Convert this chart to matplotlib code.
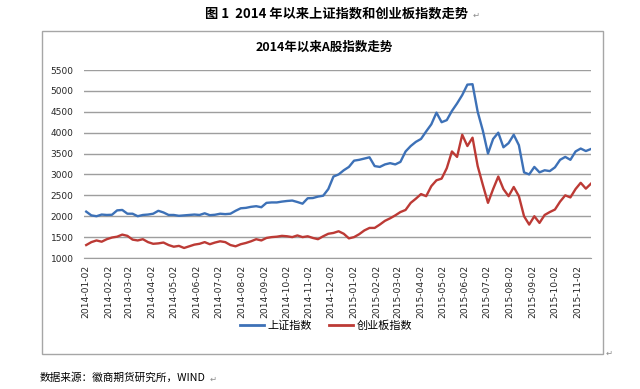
# -*- coding: UTF-8 -*-
# 2014年以来上证指数和创业板指数走势（周度读数）
import pandas as pd
import matplotlib
matplotlib.use('Agg')
import matplotlib.pyplot as plt
import matplotlib.dates as mdates
from matplotlib.patches import Rectangle
from matplotlib.lines import Line2D

plt.rcParams['font.family'] = ['Noto Sans CJK SC', 'DejaVu Sans']

# 周五日期（2014-01-03 起，共 99 周）
dates = pd.date_range('2014-01-03', periods=99, freq='7D')

# 上证指数
sh_index = [
    2110, 2020, 2000, 2040, 2030, 2035, 2140, 2150, 2060, 2060,
    2000, 2030, 2040, 2060, 2130, 2090, 2030, 2030, 2010, 2020,
    2030, 2040, 2030, 2070, 2025, 2035, 2060, 2050, 2060, 2130,
    2190, 2200, 2225, 2240, 2215, 2320, 2330, 2330, 2350, 2365,
    2375, 2340, 2300, 2430, 2435, 2470, 2490, 2650, 2950, 3000,
    3100, 3180, 3330, 3350, 3380, 3410, 3200, 3180, 3240, 3270,
    3240, 3300, 3550, 3680, 3780, 3850, 4030, 4200, 4480, 4250,
    4300, 4520, 4700, 4900, 5150, 5160, 4500, 4050, 3500, 3850,
    4000, 3650, 3750, 3950, 3700, 3050, 3000, 3180, 3050, 3100,
    3080, 3170, 3350, 3420, 3350, 3550, 3620, 3560, 3610,
]

# 创业板指数
cyb_index = [
    1310, 1380, 1420, 1390, 1450, 1490, 1510, 1560, 1530, 1440,
    1420, 1450, 1380, 1340, 1350, 1370, 1310, 1270, 1290, 1240,
    1280, 1320, 1340, 1380, 1330, 1370, 1400, 1380, 1310, 1280,
    1330, 1360, 1400, 1450, 1420, 1480, 1500, 1510, 1530, 1520,
    1500, 1540, 1500, 1520, 1480, 1450, 1520, 1580, 1600, 1640,
    1580, 1470, 1500, 1570, 1660, 1720, 1720, 1800, 1890, 1950,
    2020, 2100, 2150, 2320, 2420, 2530, 2480, 2720, 2860, 2900,
    3150, 3550, 3420, 3950, 3680, 3880, 3200, 2750, 2320, 2650,
    2950, 2650, 2480, 2700, 2480, 2000, 1800, 2000, 1840, 2030,
    2100, 2160, 2350, 2500, 2450, 2650, 2800, 2660, 2780,
]

# 月度刻度标签（每月 2 日）
tick_dates = pd.date_range('2014-01-01', '2015-11-01', freq='MS') + pd.Timedelta(days=1)

blue = '#3D71B7'
red = '#BC3A35'
mark = '#8C8C8C'

W, H = 640, 389
fig = plt.figure(figsize=(W / 100, H / 100), dpi=100)

# 图表外框
fig.patches.append(Rectangle((42 / W, 1 - 354 / H), (603 - 42) / W, (354 - 31) / H,
                             transform=fig.transFigure, fill=False,
                             edgecolor='#A6A6A6', linewidth=1.0))

# 文档标题与数据来源
fig.text(337 / W, 1 - 14 / H, '图 1  2014 年以来上证指数和创业板指数走势',
         ha='center', va='center', fontsize=9.5, fontweight='bold')
fig.text(473 / W, 1 - 15 / H, '↵', ha='left', va='center', fontsize=6,
         color=mark, family='DejaVu Sans')
fig.text(40 / W, 1 - 378 / H, '数据来源：徽商期货研究所，WIND',
         ha='left', va='center', fontsize=7.7)
fig.text(210 / W, 1 - 379 / H, '↵', ha='left', va='center', fontsize=6,
         color=mark, family='DejaVu Sans')
fig.text(606 / W, 1 - 353 / H, '↵', ha='left', va='center', fontsize=6,
         color=mark, family='DejaVu Sans')

# 图表标题
fig.text(324 / W, 1 - 47 / H, '2014年以来A股指数走势',
         ha='center', va='center', fontsize=9, fontweight='bold')

# 绘图区
ax = fig.add_axes([84 / W, 1 - 258 / H, (591 - 84) / W, (258 - 70) / H])
ax.plot(dates, sh_index, color=blue, linewidth=1.7, label='上证指数')
ax.plot(dates, cyb_index, color=red, linewidth=1.7, label='创业板指数')

ax.set_ylim(1000, 5500)
ax.set_yticks(range(1000, 5501, 500))
ax.set_xlim(pd.Timestamp('2013-12-31'), pd.Timestamp('2015-11-20'))
ax.set_xticks(tick_dates)
ax.xaxis.set_major_formatter(mdates.DateFormatter('%Y-%m-%d'))
for lab in ax.get_xticklabels() + ax.get_yticklabels():
    lab.set_family('DejaVu Sans')
ax.tick_params(axis='x', rotation=90, labelsize=6.6, length=0, pad=5,
               labelcolor='#262626')
ax.tick_params(axis='y', labelsize=6.5, length=0, pad=7.5,
               labelcolor='#262626')

ax.grid(axis='y', color='#9E9E9E', linewidth=1.0)
ax.set_axisbelow(True)
for s in ['top', 'right', 'left']:
    ax.spines[s].set_visible(False)
ax.spines['bottom'].set_color('#9E9E9E')

# 图例
handles = [Line2D([], [], color=blue, linewidth=2),
           Line2D([], [], color=red, linewidth=2)]
fig.legend(handles, ['上证指数', '创业板指数'], loc='center',
           bbox_to_anchor=(326 / W, 1 - 326 / H), ncol=2, frameon=False,
           fontsize=8, handlelength=2.2, handletextpad=0.3, columnspacing=1.5)

fig.savefig('out.png', dpi=100)
